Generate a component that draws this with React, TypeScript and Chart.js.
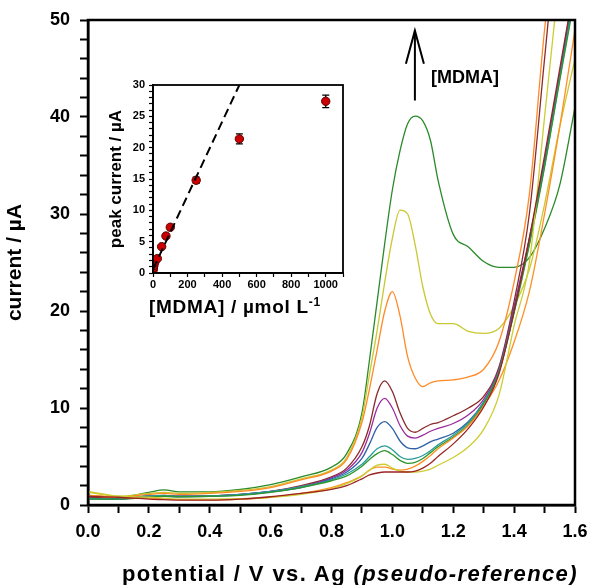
import React, { useEffect, useRef } from "react";
import { Chart, registerables } from "chart.js";

Chart.register(...registerables);

const FONT = "'Liberation Sans', Arial, Helvetica, sans-serif";

// ---------- main voltammograms ----------
const potential = [0, 0.1, 0.2, 0.25, 0.3, 0.4, 0.5, 0.6, 0.7, 0.8, 0.85, 0.9, 0.925, 0.95, 0.975, 1.0, 1.025, 1.05, 1.075, 1.1, 1.125, 1.15, 1.2, 1.25, 1.3, 1.35, 1.4, 1.45, 1.5, 1.55, 1.6];

const curveGreenHigh = [1.0, 0.8, 1.3, 1.55, 1.35, 1.35, 1.6, 2.1, 2.9, 3.9, 5.3, 9.5, 15, 21, 27, 32.5, 36.5, 39.3, 40.1, 39.6, 37.6, 33.5, 27.9, 26.6, 25.1, 24.5, 24.5, 25.5, 28.5, 33, 41];
const curveYellowHigh = [1.3, 0.9, 1.2, 1.3, 1.2, 1.3, 1.5, 1.9, 2.7, 3.6, 4.9, 9, 13.5, 18, 23, 27.5, 30.4, 30.0, 26.8, 22.5, 19.7, 18.7, 18.7, 17.9, 17.7, 18.2, 20.5, 24.3, 31, 39, 46];
const curveOrangeHigh = [1.0, 0.8, 1.1, 1.2, 1.1, 1.2, 1.4, 1.8, 2.6, 3.5, 4.7, 8.5, 12, 16, 20, 22, 19.5, 15.3, 13.1, 12.2, 12.6, 12.8, 12.9, 13.2, 14.0, 16.8, 23, 32, 49, 62, 75];
const curveMaroon = [0.8, 0.7, 0.9, 1.0, 0.9, 0.95, 1.1, 1.4, 2.0, 2.9, 3.8, 6.0, 8.2, 11.5, 12.8, 11.7, 9.5, 7.9, 7.5, 7.9, 8.3, 8.5, 9.2, 10.0, 11.2, 14.2, 21, 30, 46, 62, 75];
const curvePurple = [0.7, 0.6, 0.9, 0.95, 0.9, 0.95, 1.1, 1.4, 1.9, 2.8, 3.6, 5.4, 7.4, 10.0, 11.0, 10.0, 8.2, 7.1, 6.9, 7.2, 7.6, 7.9, 8.4, 9.3, 10.9, 14.0, 20.5, 27.5, 35.5, 44.5, 54];
const curveBlue = [0.6, 0.6, 0.9, 0.9, 0.85, 0.9, 1.05, 1.35, 1.8, 2.7, 3.4, 4.8, 6.3, 8.0, 8.6, 7.9, 6.6, 5.9, 5.8, 6.1, 6.5, 6.8, 7.4, 8.6, 10.6, 13.8, 20.2, 27.3, 35.3, 44.2, 53.5];
const curveTeal = [0.7, 0.6, 0.95, 1.0, 0.9, 0.95, 1.1, 1.4, 1.9, 2.6, 3.2, 4.2, 5.0, 5.8, 6.1, 5.7, 5.0, 4.7, 4.8, 5.1, 5.6, 6.2, 7.2, 8.5, 10.6, 13.8, 20, 27, 35, 44, 53];
const curveGreenLow = [0.6, 0.6, 0.8, 0.9, 0.85, 0.9, 1.0, 1.3, 1.8, 2.5, 3.0, 4.0, 4.7, 5.3, 5.6, 5.2, 4.6, 4.3, 4.4, 4.8, 5.4, 6.0, 7.0, 8.3, 10.4, 13.7, 19.8, 26.8, 34.8, 43.8, 52.5];
const curveOrangeLow = [1.0, 0.8, 0.7, 0.6, 0.55, 0.5, 0.6, 0.8, 1.2, 1.8, 2.3, 3.0, 3.6, 3.9, 3.9, 3.7, 3.6, 3.7, 4.0, 4.5, 5.1, 5.8, 6.9, 8.2, 10.2, 12.8, 16.8, 22, 30, 39, 49];
const curveYellowLow = [1.4, 0.9, 0.8, 0.7, 0.6, 0.6, 0.65, 0.8, 1.1, 1.7, 2.2, 3.0, 3.6, 4.1, 4.2, 3.8, 3.5, 3.4, 3.4, 3.5, 3.7, 4.1, 4.9, 6.0, 7.8, 11.3, 18.5, 25, 40, 55, 70];
const curveBrown = [0.9, 0.8, 0.6, 0.55, 0.5, 0.5, 0.6, 0.85, 1.2, 1.6, 2.0, 2.7, 3.1, 3.3, 3.4, 3.4, 3.4, 3.4, 3.5, 3.8, 4.3, 5.0, 6.3, 7.9, 10.1, 13.5, 20, 27.5, 36, 45, 54];

const mainCurves = [curveBrown, curveYellowLow, curveOrangeLow, curveGreenLow, curveTeal, curveBlue, curvePurple, curveMaroon, curveOrangeHigh, curveYellowHigh, curveGreenHigh];
const mainColors = ["#9b2323", "#cccc33", "#ff9020", "#2e962e", "#2a9b9b", "#2f5fa5", "#9a2c9a", "#8b2a2a", "#ff8a26", "#c8c832", "#2a8a2a"];

const xTickMajor = 0.2;
const yTickMajor = 10;

// arrow annotation (data coordinates)
const arrowPotential = 1.074;
const arrowCurrent = [41.7, 48.9];
const arrowLabel = "[MDMA]";
const arrowLabelAt = [1.127, 44];

// ---------- inset calibration ----------
const concentration = [1, 2.5, 5, 10, 25, 50, 75, 100, 250, 500, 1000];
const peakCurrent = [0.5, 0.8, 1.2, 1.7, 2.3, 4.2, 5.9, 7.3, 14.8, 21.4, 27.4];
const peakError = [0.1, 0.1, 0.1, 0.15, 0.2, 0.25, 0.3, 0.3, 0.5, 0.8, 1.0];
const fitConcentration = [0, 500];
const fitCurrent = [0.6, 30];

const framePlugin = {
  id: "frame",
  afterDatasetsDraw(chart: any, _args: any, opts: any) {
    const { ctx, chartArea: a } = chart;
    ctx.save();
    ctx.strokeStyle = "#000";
    ctx.lineWidth = opts.width || 2;
    ctx.strokeRect(a.left, a.top, a.right - a.left, a.bottom - a.top);
    ctx.restore();
  },
};

const arrowPlugin = {
  id: "arrowNote",
  afterDatasetsDraw(chart: any) {
    const { ctx } = chart;
    const x = chart.scales.x;
    const y = chart.scales.y;
    const px = x.getPixelForValue(arrowPotential);
    const pb = y.getPixelForValue(arrowCurrent[0]);
    const pt = y.getPixelForValue(arrowCurrent[1]);
    ctx.save();
    ctx.strokeStyle = "#000";
    ctx.lineWidth = 2;
    ctx.beginPath();
    ctx.moveTo(px, pb);
    ctx.lineTo(px, pt);
    ctx.stroke();
    ctx.beginPath();
    ctx.moveTo(px - 9, pt + 33);
    ctx.lineTo(px, pt);
    ctx.lineTo(px + 9, pt + 33);
    ctx.stroke();
    ctx.fillStyle = "#000";
    ctx.font = `bold 18px ${FONT}`;
    ctx.textAlign = "left";
    ctx.textBaseline = "middle";
    ctx.fillText(arrowLabel, x.getPixelForValue(arrowLabelAt[0]), y.getPixelForValue(arrowLabelAt[1]));
    ctx.restore();
  },
};

const errorBarPlugin = {
  id: "errorBars",
  beforeDatasetsDraw(chart: any) {
    const { ctx } = chart;
    const x = chart.scales.x;
    const y = chart.scales.y;
    ctx.save();
    ctx.strokeStyle = "#000";
    ctx.lineWidth = 1.3;
    concentration.forEach((c, i) => {
      const e = peakError[i];
      if (e < 0.4) return;
      const px = x.getPixelForValue(c);
      const t = y.getPixelForValue(peakCurrent[i] + e);
      const b = y.getPixelForValue(peakCurrent[i] - e);
      ctx.beginPath();
      ctx.moveTo(px, t);
      ctx.lineTo(px, b);
      ctx.moveTo(px - 3.5, t);
      ctx.lineTo(px + 3.5, t);
      ctx.moveTo(px - 3.5, b);
      ctx.lineTo(px + 3.5, b);
      ctx.stroke();
    });
    ctx.restore();
  },
};

export default function App() {
  const mainRef = useRef<HTMLCanvasElement>(null);
  const insetRef = useRef<HTMLCanvasElement>(null);

  useEffect(() => {
    const main = new Chart(mainRef.current as HTMLCanvasElement, {
      type: "line",
      data: {
        datasets: mainCurves.map((c, i) => ({
          data: potential.map((v, j) => ({ x: v, y: c[j] })),
          borderColor: mainColors[i],
          borderWidth: 1.3,
          pointRadius: 0,
          fill: false,
          cubicInterpolationMode: "monotone" as const,
        })),
      },
      options: {
        animation: false,
        responsive: false,
        devicePixelRatio: 1,
        layout: { padding: { top: 20, right: 15, left: 0, bottom: 0 } },
        plugins: { legend: { display: false }, tooltip: { enabled: false }, frame: { width: 2.5 } } as any,
        scales: {
          x: {
            type: "linear",
            min: 0,
            max: 1.6,
            afterFit: (s: any) => { s.height = 80; s.paddingLeft = 0; s.paddingRight = 0; },
            grid: { drawOnChartArea: false, drawTicks: true, tickLength: 8, tickWidth: 2, tickColor: "#000" },
            border: { display: true, color: "#000", width: 2.5 },
            ticks: {
              stepSize: 0.1,
              autoSkip: false,
              maxRotation: 0,
              padding: 8,
              color: "#000",
              font: { family: FONT, size: 18, weight: "bold" },
              callback: (v: any) => {
                const r = Math.round(Number(v) * 10);
                return r % Math.round(xTickMajor * 10) === 0 ? (r / 10).toFixed(1) : "";
              },
            },
          },
          y: {
            type: "linear",
            min: 0,
            max: 50,
            afterFit: (s: any) => { s.width = 88; s.paddingTop = 0; s.paddingBottom = 0; },
            grid: { drawOnChartArea: false, drawTicks: true, tickLength: 8, tickWidth: 2, tickColor: "#000" },
            border: { display: true, color: "#000", width: 2.5 },
            ticks: {
              stepSize: 2,
              autoSkip: false,
              padding: 10,
              color: "#000",
              font: { family: FONT, size: 18, weight: "bold" },
              callback: (v: any) => (Math.round(Number(v)) % yTickMajor === 0 ? String(Math.round(Number(v))) : ""),
            },
            title: {
              display: true,
              text: "current / µA",
              color: "#000",
              font: { family: FONT, size: 21, weight: "bold" },
              padding: { top: 3, bottom: 0 },
            },
          },
        },
      },
      plugins: [framePlugin, arrowPlugin],
    } as any);

    const inset = new Chart(insetRef.current as HTMLCanvasElement, {
      type: "line",
      data: {
        datasets: [
          {
            type: "line",
            data: fitConcentration.map((c, i) => ({ x: c, y: fitCurrent[i] })),
            borderColor: "#000",
            borderWidth: 2,
            borderDash: [9, 5],
            pointRadius: 0,
            fill: false,
          },
          {
            type: "scatter",
            data: concentration.map((c, i) => ({ x: c, y: peakCurrent[i] })),
            showLine: false,
            pointRadius: 4.2,
            pointBackgroundColor: "#cc0000",
            pointBorderColor: "#5a0000",
            pointBorderWidth: 1,
          },
        ],
      },
      options: {
        animation: false,
        responsive: false,
        devicePixelRatio: 1,
        layout: { padding: { top: 10, right: 7, left: 0, bottom: 0 } },
        plugins: { legend: { display: false }, tooltip: { enabled: false }, frame: { width: 1.8 } } as any,
        scales: {
          x: {
            type: "linear",
            min: 0,
            max: 1100,
            afterFit: (s: any) => { s.height = 32; s.paddingLeft = 0; s.paddingRight = 0; },
            grid: { drawOnChartArea: false, drawTicks: true, tickLength: 4, tickWidth: 1.2, tickColor: "#000" },
            border: { display: true, color: "#000", width: 1.8 },
            ticks: {
              stepSize: 100,
              autoSkip: false,
              maxRotation: 0,
              padding: 1,
              color: "#000",
              font: { family: FONT, size: 11, weight: "bold" },
              callback: (v: any) => {
                const n = Math.round(Number(v));
                return n % 200 === 0 && n <= 1000 ? String(n) : "";
              },
            },
          },
          y: {
            type: "linear",
            min: 0,
            max: 30,
            afterFit: (s: any) => { s.width = 58; s.paddingTop = 0; s.paddingBottom = 0; },
            grid: { drawOnChartArea: false, drawTicks: true, tickLength: 4, tickWidth: 1.2, tickColor: "#000" },
            border: { display: true, color: "#000", width: 1.8 },
            ticks: {
              stepSize: 1,
              autoSkip: false,
              padding: 4,
              color: "#000",
              font: { family: FONT, size: 11, weight: "bold" },
              callback: (v: any) => (Math.round(Number(v)) % 5 === 0 ? String(Math.round(Number(v))) : ""),
            },
            title: {
              display: true,
              text: "peak current / µA",
              color: "#000",
              font: { family: FONT, size: 17, weight: "bold" },
              padding: { top: 11, bottom: 0 },
            },
          },
        },
      },
      plugins: [framePlugin, errorBarPlugin],
    } as any);

    return () => {
      main.destroy();
      inset.destroy();
    };
  }, []);

  return (
    <div style={{ position: "fixed", left: 0, top: 0, width: 590, height: 585, background: "#fff", overflow: "hidden" }}>
      <canvas ref={mainRef} width={590} height={585} style={{ position: "absolute", left: 0, top: 0, width: 590, height: 585 }} />
      <canvas ref={insetRef} width={255} height={230} style={{ position: "absolute", left: 95, top: 75, width: 255, height: 230 }} />
      <div
        style={{
          position: "absolute",
          left: 122,
          top: 561,
          fontFamily: FONT,
          fontWeight: "bold",
          fontSize: 22,
          lineHeight: "26px",
          letterSpacing: 1.4,
          whiteSpace: "nowrap",
          color: "#000",
        }}
      >
        potential / V vs. Ag <i>(pseudo-reference)</i>
      </div>
      <div
        style={{
          position: "absolute",
          left: 149,
          top: 296,
          fontFamily: FONT,
          fontWeight: "bold",
          fontSize: 19,
          lineHeight: "22px",
          letterSpacing: 0.7,
          whiteSpace: "nowrap",
          color: "#000",
        }}
      >
        [MDMA] / µmol L<sup style={{ fontSize: 12, lineHeight: 0, verticalAlign: "7px" }}>-1</sup>
      </div>
    </div>
  );
}
